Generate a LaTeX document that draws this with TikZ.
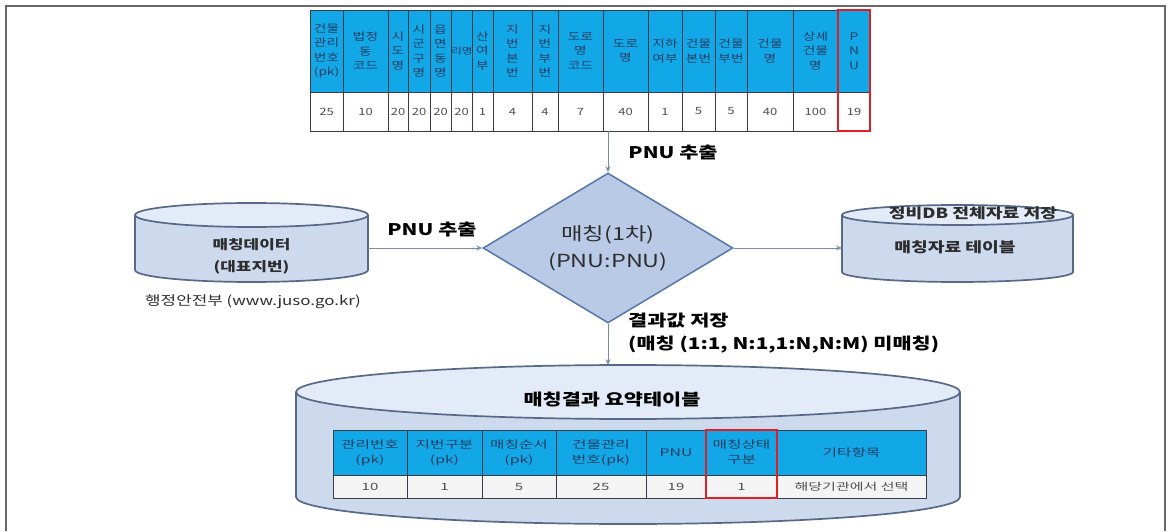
\documentclass[tikz,border=0pt]{standalone}
\usepackage{fontspec}
\setmainfont{Noto Sans CJK KR}[FakeStretch=1.3]
\newfontfamily\widefont{Noto Sans CJK KR}[FakeStretch=1.5]
\usetikzlibrary{shapes.geometric,arrows.meta}
\definecolor{hdrc}{RGB}{18,168,232}
\definecolor{hdrtext}{RGB}{35,60,95}
\definecolor{valtext}{RGB}{80,80,80}
\definecolor{gridc}{RGB}{55,60,70}
\definecolor{valfill}{RGB}{244,244,244}
\definecolor{cylfill}{RGB}{205,218,238}
\definecolor{cyltop}{RGB}{226,235,247}
\definecolor{cylline}{RGB}{88,105,135}
\definecolor{diafill}{RGB}{185,202,230}
\definecolor{dialine}{RGB}{88,118,165}
\definecolor{arrc}{RGB}{120,140,170}
\definecolor{framec}{RGB}{105,105,105}
\definecolor{txtc}{RGB}{45,45,45}
\definecolor{redc}{RGB}{225,30,35}
\tikzset{
 thdr/.style={draw=gridc, line width=0.8pt, fill=hdrc, inner sep=0pt, outer sep=0pt, anchor=north west, minimum height=82pt, align=center, text=hdrtext, font=\fontsize{10.5}{14.5}\selectfont},
 tval/.style={draw=gridc, line width=0.8pt, fill=white, inner sep=0pt, outer sep=0pt, anchor=north west, minimum height=39pt, text=valtext, font=\fontsize{10}{12}\selectfont},
 bhdr/.style={draw=gridc, line width=0.8pt, fill=hdrc, inner sep=0pt, outer sep=0pt, anchor=north west, minimum height=45pt, align=center, text=hdrtext, font=\widefont\fontsize{10.5}{15}\selectfont},
 bval/.style={draw=gridc, line width=0.8pt, fill=valfill, inner sep=0pt, outer sep=0pt, anchor=north west, minimum height=23pt, text=valtext, font=\widefont\fontsize{10}{12}\selectfont},
 arr/.style={draw=arrc, line width=0.9pt, -{Stealth[length=6pt,width=5pt]}},
 lbl/.style={font=\bfseries\fontsize{16}{23}\selectfont, text=black, inner sep=0pt},
 cyltxt/.style={font=\bfseries\fontsize{13}{22}\selectfont, text=txtc, inner sep=0pt, align=center},
 redbox/.style={draw=redc, line width=1.8pt},
 hold/.style={draw=none, inner sep=0pt, outer sep=0pt},
}
\newcommand\tcell[5]{%
 \node[thdr, minimum width=#3pt] (h#1) at (#2,521) {#4};
 \node[tval, minimum width=#3pt] (v#1) at (#2,439) {#5};}
\newcommand\bcell[5]{%
 \node[bhdr, minimum width=#3pt] (bh#1) at (#2,101) {#4};
 \node[bval, minimum width=#3pt] (bv#1) at (#2,56) {#5};}
\newcommand\dbcyl[5]{% cx, Ytop, Ybot, rx, ry
 \fill[cylfill] (#1-#4,#2) -- (#1-#4,#3) arc[start angle=180,end angle=360,x radius=#4,y radius=#5] -- (#1+#4,#2) -- cycle;
 \draw[cylline, line width=1.7pt] (#1-#4,#2) -- (#1-#4,#3) arc[start angle=180,end angle=360,x radius=#4,y radius=#5] -- (#1+#4,#2);
 \draw[cylline, line width=1.7pt, fill=cyltop] (#1,#2) ellipse[x radius=#4, y radius=#5];}
\begin{document}
\begin{tikzpicture}[x=1pt,y=1pt]
\useasboundingbox (0,0) rectangle (1171,531);
\fill[white] (0,0) rectangle (1171,531);
\draw[framec, line width=1.4pt] (6,0) -- (6,525) -- (1165,525) -- (1165,0);

% top table
\tcell{1}{310}{33}{건물\\관리\\번호\\(pk)}{25}
\tcell{2}{343}{45}{법정\\동\\코드}{10}
\tcell{3}{388}{20}{시\\도\\명}{20}
\tcell{4}{408}{22}{시\\군\\구\\명}{20}
\tcell{5}{430}{21}{읍\\면\\동\\명}{20}
\tcell{6}{451}{21}{\fontsize{9}{12}\selectfont 리명}{20}
\tcell{7}{472}{21}{산\\여\\부}{1}
\tcell{8}{493}{39}{지\\번\\본\\번}{4}
\tcell{9}{532}{26}{지\\번\\부\\번}{4}
\tcell{10}{558}{45}{도로\\명\\코드}{7}
\tcell{11}{603}{45}{도로\\명}{40}
\tcell{12}{648}{34}{지하\\여부}{1}
\tcell{13}{682}{33}{건물\\본번}{5}
\tcell{14}{715}{32}{건물\\부번}{5}
\tcell{15}{747}{46}{건물\\명}{40}
\tcell{16}{793}{45}{상세\\건물\\명}{100}
\tcell{17}{838}{32}{P\\N\\U}{19}
\draw[redbox] (h17.north west) rectangle (v17.south east);
\coordinate (tabout) at (608,400);

% diamond
\node[diamond, draw=dialine, fill=diafill, line width=1.5pt, minimum width=250pt, minimum height=150pt, aspect=1.667, inner sep=0pt, align=center, text=txtc, font=\fontsize{18}{27}\selectfont] (dia) at (608,283) {매칭(1차)\\(PNU:PNU)};

% left cylinder
\dbcyl{251.5}{316}{261}{116.5}{12}
\node[hold, minimum width=233pt, minimum height=79pt] (cylL) at (251.5,288.5) {};
\node[cyltxt] (cylLt) at (251.5,275) {매칭데이터\\(대표지번)};
\node[anchor=west, inner sep=0pt, text=txtc, font=\fontsize{13}{15}\selectfont] (mois) at (145,229) {행정안전부~(www.juso.go.kr)};

% right cylinder
\dbcyl{957.5}{316}{259}{115.5}{10}
\node[hold, minimum width=231pt, minimum height=77pt] (cylR) at (957.5,287.5) {};
\node[cyltxt, font=\bfseries\fontsize{14}{16}\selectfont] (cylRa) at (973,318) {정비DB 전체자료 저장};
\node[cyltxt, font=\bfseries\fontsize{14}{16}\selectfont] (cylRb) at (955,284) {매칭자료 테이블};

% bottom cylinder
\dbcyl{628}{139}{34}{332}{27}
\node[hold, minimum width=664pt, minimum height=159pt] (cylB) at (628,86.5) {};
\node[lbl] (cylBt) at (612,131) {매칭결과 요약테이블};

% bottom table
\bcell{1}{333}{74}{관리번호\\(pk)}{10}
\bcell{2}{407}{75}{지번구분\\(pk)}{1}
\bcell{3}{482}{74}{매칭순서\\(pk)}{5}
\bcell{4}{556}{90}{건물관리\\번호(pk)}{25}
\bcell{5}{646}{60}{PNU}{19}
\bcell{6}{706}{71}{매칭상태\\구분}{1}
\bcell{7}{777}{149}{기타항목}{해당기관에서 선택}
\draw[redbox] (bh6.north west) rectangle (bv6.south east);

% connectors
\draw[arr] (tabout) -- (dia.north);
\draw[arr] (cylL.east |- dia.west) -- (dia.west);
\draw[arr] (dia.east) -- (cylR.west |- dia.east);
\draw[arr] (dia.south) -- (dia.south |- cylB.north);

% labels
\node[lbl] (l1) at (673,378) {PNU 추출};
\node[lbl] (l2) at (432,301) {PNU 추출};
\node[lbl, anchor=north west, align=left] (l3) at (628,218) {결과값 저장\\(매칭 (1:1, N:1,1:N,N:M) 미매칭)};
\end{tikzpicture}
\end{document}
